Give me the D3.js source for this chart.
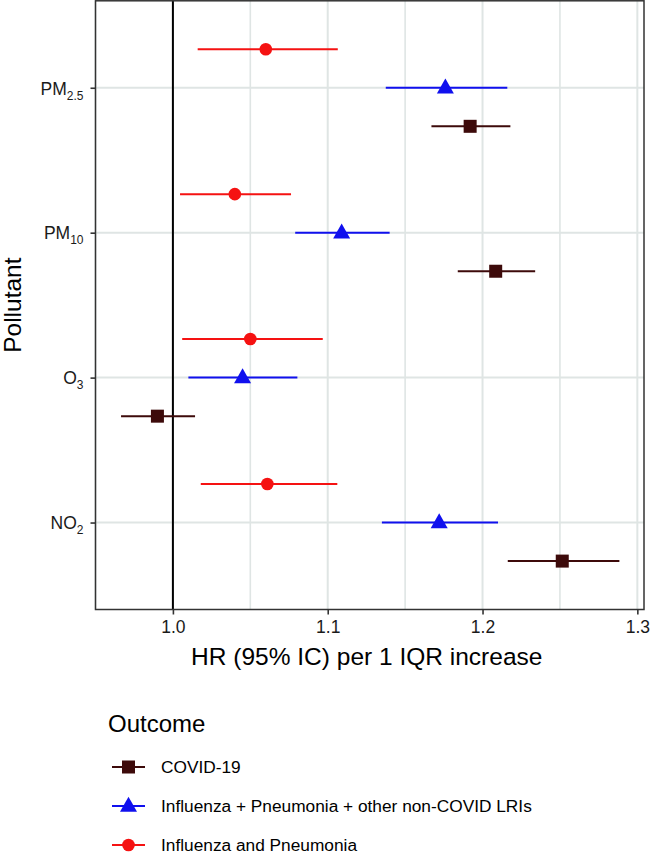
<!DOCTYPE html>
<html>
<head>
<meta charset="utf-8">
<script src="https://cdn.jsdelivr.net/npm/d3@7"></script>
<style>
  html, body { margin: 0; padding: 0; background: #fff; }
  text { font-family: "Liberation Sans", Arial, sans-serif; }
</style>
</head>
<body>
<svg id="chart" width="658" height="863"></svg>
<script>
// ---------------- data ----------------
const pollutants = ["PM2.5", "PM10", "O3", "NO2"];          // top -> bottom
const pollutantMain = ["PM", "PM", "O", "NO"];
const pollutantSub = ["2.5", "10", "3", "2"];
const outcomes = ["COVID-19", "Influenza + Pneumonia + other non-COVID LRIs", "Influenza and Pneumonia"];

const covidHR = [1.192, 1.2085, 0.990, 1.2515];
const covidLo = [1.167, 1.184, 0.9665, 1.2163];
const covidHi = [1.218, 1.234, 1.0143, 1.2884];

const lriHR = [1.176, 1.109, 1.045, 1.172];
const lriLo = [1.1375, 1.079, 1.010, 1.135];
const lriHi = [1.216, 1.140, 1.0804, 1.210];

const fluHR = [1.060, 1.040, 1.050, 1.061];
const fluLo = [1.016, 1.0046, 1.006, 1.018];
const fluHi = [1.1065, 1.0763, 1.0968, 1.1062];

const xTicks = [1.0, 1.1, 1.2, 1.3];
const xMinor = [0.95, 1.05, 1.15, 1.25];

const colors = ["#3d0a0a", "#1010ee", "#f51212"];
const shapes = ["square", "triangle", "circle"];

const series = [
  { name: outcomes[0], hr: covidHR, lo: covidLo, hi: covidHi },
  { name: outcomes[1], hr: lriHR, lo: lriLo, hi: lriHi },
  { name: outcomes[2], hr: fluHR, lo: fluLo, hi: fluHi }
];

// ---------------- layout ----------------
const svg = d3.select("#chart");
const panel = { left: 95.5, right: 644, top: 0.8, bottom: 609.5 };

const x = d3.scaleLinear().domain([0.95, 1.3043]).range([panel.left, panel.right]);
const y = d3.scalePoint().domain(pollutants).range([panel.top, panel.bottom]).padding(0.6);
const step = y.step();
const dodge = d3.scalePoint().domain(outcomes).range([0.266 * step, -0.266 * step]);
const color = d3.scaleOrdinal().domain(outcomes).range(colors);
const shape = d3.scaleOrdinal().domain(outcomes).range(shapes);

const gridColor = "#dfe5e4";

// background
svg.append("rect").attr("width", 658).attr("height", 863).attr("fill", "#fff");

// minor grid
svg.append("g").selectAll("line").data(xMinor).join("line")
  .attr("x1", d => x(d)).attr("x2", d => x(d))
  .attr("y1", panel.top).attr("y2", panel.bottom)
  .attr("stroke", gridColor).attr("stroke-width", 1.6);

// major grid vertical
svg.append("g").selectAll("line").data(xTicks).join("line")
  .attr("x1", d => x(d)).attr("x2", d => x(d))
  .attr("y1", panel.top).attr("y2", panel.bottom)
  .attr("stroke", gridColor).attr("stroke-width", 2);

// major grid horizontal
svg.append("g").selectAll("line").data(pollutants).join("line")
  .attr("x1", panel.left).attr("x2", panel.right)
  .attr("y1", d => y(d)).attr("y2", d => y(d))
  .attr("stroke", gridColor).attr("stroke-width", 2);

// reference line at HR = 1
svg.append("line")
  .attr("x1", x(1)).attr("x2", x(1))
  .attr("y1", panel.top).attr("y2", panel.bottom)
  .attr("stroke", "#000").attr("stroke-width", 2);

// symbol drawer
function drawShape(g, shp, cx, cy, col) {
  if (shp === "circle") {
    g.append("circle").attr("cx", cx).attr("cy", cy).attr("r", 6.3).attr("fill", col);
  } else if (shp === "square") {
    g.append("rect").attr("x", cx - 6.5).attr("y", cy - 6.5)
      .attr("width", 13).attr("height", 13).attr("fill", col);
  } else {
    const h = 15, w = 17;
    g.append("path")
      .attr("d", `M${cx},${cy - h * 0.62} L${cx + w / 2},${cy + h * 0.38} L${cx - w / 2},${cy + h * 0.38} Z`)
      .attr("fill", col);
  }
}

// error bars and points
const marks = svg.append("g");
series.forEach(s => {
  pollutants.forEach((p, i) => {
    const cy = y(p) + dodge(s.name);
    marks.append("line")
      .attr("x1", x(s.lo[i])).attr("x2", x(s.hi[i]))
      .attr("y1", cy).attr("y2", cy)
      .attr("stroke", color(s.name)).attr("stroke-width", 2);
    drawShape(marks, shape(s.name), x(s.hr[i]), cy, color(s.name));
  });
});

// panel border
svg.append("rect")
  .attr("x", panel.left).attr("y", panel.top)
  .attr("width", panel.right - panel.left).attr("height", panel.bottom - panel.top)
  .attr("fill", "none").attr("stroke", "#333").attr("stroke-width", 1.5);

// x axis
const xAxis = svg.append("g")
  .attr("transform", `translate(0,${panel.bottom})`)
  .call(d3.axisBottom(x).tickValues(xTicks).tickFormat(d3.format(".1f")).tickSize(5).tickPadding(6));
xAxis.select(".domain").remove();
xAxis.selectAll(".tick line").attr("stroke", "#333").attr("stroke-width", 1.6);
xAxis.selectAll(".tick text")
  .attr("fill", "#1a1a1a").attr("font-size", 17.5)
  .attr("font-family", "Liberation Sans, Arial, sans-serif");

// y axis with subscripts
const yAxis = svg.append("g")
  .attr("transform", `translate(${panel.left},0)`)
  .call(d3.axisLeft(y).tickSize(5).tickFormat(""));
yAxis.select(".domain").remove();
yAxis.selectAll(".tick line").attr("stroke", "#333").attr("stroke-width", 1.6);
yAxis.selectAll(".tick").each(function (d) {
  const i = pollutants.indexOf(d);
  const t = d3.select(this).append("text")
    .attr("x", -12).attr("y", 0).attr("dy", "0.36em")
    .attr("text-anchor", "end").attr("fill", "#1a1a1a")
    .attr("font-size", 17.5)
    .attr("font-family", "Liberation Sans, Arial, sans-serif");
  t.append("tspan").text(pollutantMain[i]);
  t.append("tspan").attr("font-size", 12).attr("dy", 5).text(pollutantSub[i]);
});

// axis titles
svg.append("text")
  .attr("x", (panel.left + panel.right) / 2 - 3).attr("y", 665)
  .attr("text-anchor", "middle").attr("font-size", 24.5).attr("fill", "#000")
  .text("HR (95% IC) per 1 IQR increase");

svg.append("text")
  .attr("transform", `translate(21,${(panel.top + panel.bottom) / 2}) rotate(-90)`)
  .attr("text-anchor", "middle").attr("font-size", 24.5).attr("fill", "#000")
  .text("Pollutant");

// legend
const legend = svg.append("g");
legend.append("text").attr("x", 108).attr("y", 732)
  .attr("font-size", 24).attr("fill", "#000").text("Outcome");

const legY = d3.scalePoint().domain(outcomes).range([767, 845]);
outcomes.forEach(o => {
  const cy = legY(o);
  legend.append("line").attr("x1", 112).attr("x2", 145).attr("y1", cy).attr("y2", cy)
    .attr("stroke", color(o)).attr("stroke-width", 2);
  drawShape(legend, shape(o), 128.5, cy, color(o));
  legend.append("text").attr("x", 161).attr("y", cy).attr("dy", "0.36em")
    .attr("font-size", 17.3).attr("fill", "#000").text(o);
});
</script>
</body>
</html>
